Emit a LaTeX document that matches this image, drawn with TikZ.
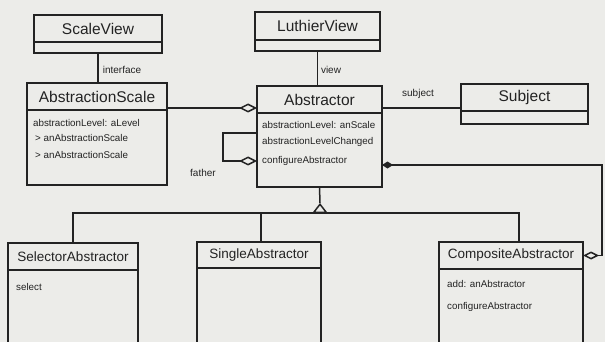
\documentclass[tikz,border=0pt]{standalone}
\usepackage{fontspec}
\setmainfont{Liberation Sans}
\usetikzlibrary{arrows.meta,calc}
\definecolor{bg}{RGB}{236,236,233}
\definecolor{ink}{RGB}{35,35,35}
\begin{document}
\begin{tikzpicture}[x=1pt,y=-1pt,
  box/.style={draw=ink, fill=bg, rectangle, inner sep=0pt, outer sep=0pt, line width=1.6pt, anchor=north west, text=ink},
  head/.style={box, font=\fontsize{15.5}{16}\selectfont},
  headsm/.style={box, font=\fontsize{13.5}{14}\selectfont},
  attr/.style={anchor=west, inner sep=0pt, text=ink, font=\fontsize{9.8}{10}\selectfont},
  lbl/.style={inner sep=0pt, text=ink, font=\fontsize{10}{11}\selectfont},
  conn/.style={draw=ink, line width=1.5pt},
  aggr/.style={conn, -{Diamond[fill=bg, length=18pt, width=9pt]}}]
\useasboundingbox (0,0) rectangle (605,342);
\clip (0,0) rectangle (605,342);
\fill[bg] (0,0) rectangle (605,342);

% classes
\node[head, minimum width=128pt, minimum height=27pt] (sv) at (34,15) {ScaleView};
\node[box, minimum width=128pt, minimum height=11pt] (svb) at (34,42) {};
\node[head, minimum width=140pt, minimum height=27pt] (as) at (27,83) {AbstractionScale};
\node[box, minimum width=140pt, minimum height=75pt] (asb) at (27,110) {};
\node[head, minimum width=125pt, minimum height=28pt] (lv) at (255,12) {LuthierView};
\node[box, minimum width=125pt, minimum height=11pt] (lvb) at (255,40) {};
\node[head, minimum width=125pt, minimum height=27pt] (ab) at (257,86) {Abstractor};
\node[box, minimum width=125pt, minimum height=74pt] (abb) at (257,113) {};
\node[head, minimum width=127pt, minimum height=27pt] (su) at (461,84) {Subject};
\node[box, minimum width=127pt, minimum height=13pt] (sub) at (461,111) {};
\node[headsm, minimum width=130pt, minimum height=27pt] (sa) at (8,243) {SelectorAbstractor};
\node[box, minimum width=130pt, minimum height=90pt] (sab) at (8,270) {};
\node[headsm, minimum width=124pt, minimum height=26pt] (si) at (197,242) {SingleAbstractor};
\node[box, minimum width=124pt, minimum height=92pt] (sib) at (197,268) {};
\node[headsm, minimum width=144pt, minimum height=27pt] (ca) at (439,242) {CompositeAbstractor};
\node[box, minimum width=144pt, minimum height=91pt] (cab) at (439,269) {};

% attributes / operations
\node[attr] (as1) at ([xshift=6pt,yshift=-13pt]asb.north west) {abstractionLevel: aLevel};
\node[attr] (as2) at ([xshift=8pt,yshift=-28pt]asb.north west) {> anAbstractionScale};
\node[attr] (as3) at ([xshift=8pt,yshift=-45pt]asb.north west) {> anAbstractionScale};
\node[attr] (ab1) at ([xshift=5pt,yshift=-12pt]abb.north west) {abstractionLevel: anScale};
\node[attr] (ab2) at ([xshift=5pt,yshift=-29pt]abb.north west) {abstractionLevelChanged};
\node[attr] (ab3) at ([xshift=5pt,yshift=-48pt]abb.north west) {configureAbstractor};
\node[attr] (sa1) at ([xshift=8pt,yshift=-17pt]sab.north west) {select};
\node[attr] (ca1) at ([xshift=8pt,yshift=-15pt]cab.north west) {add: anAbstractor};
\node[attr] (ca2) at ([xshift=8pt,yshift=-38pt]cab.north west) {configureAbstractor};

% associations
\draw[conn] (svb.south) -- (svb.south |- as.north);
\node[lbl] (lint) at (122,70) {interface};
\draw[conn] (lvb.south) -- (lvb.south |- ab.north);
\node[lbl] (lview) at (331,70) {view};

\coordinate (asr) at ([yshift=2pt]as.south east);
\draw[aggr] (asr) -- (asr -| ab.west);
\coordinate (abr) at ([yshift=5pt]ab.south east);
\draw[conn] (abr) -- (abr -| su.west);
\node[lbl] (lsub) at (418,94) {subject};

% father self aggregation
\coordinate (f1) at ([yshift=-20pt]abb.north west);
\coordinate (f2) at ([yshift=-48pt]abb.north west);
\draw[aggr] (f1) -- ++(-34,0) |- (f2);
\node[lbl] (lfat) at (203,173) {father};

% composition to CompositeAbstractor
\coordinate (c1) at ([yshift=-52pt]abb.north east);
\coordinate (rx) at (602,165);
\draw[conn, {Diamond[length=11pt,width=7pt]}-{Diamond[fill=bg,length=16pt,width=8pt]}] (c1) -- (rx) |- (ca.east);

% generalization
\coordinate (hub) at (320,213);
\coordinate (apex) at (320,203);
\coordinate (bl) at (73,213);
\coordinate (bm) at (261,213);
\coordinate (br) at (519,213);
\draw[conn] (abb.south) -- (apex);
\draw[conn] (sa.north) -- (bl) -- (br) -- (br |- ca.north);
\draw[conn] (bm) -- (bm |- si.north);
\draw[conn, -{Triangle[fill=bg, length=10pt, width=15pt]}] (hub) -- (apex);
\end{tikzpicture}
\end{document}
